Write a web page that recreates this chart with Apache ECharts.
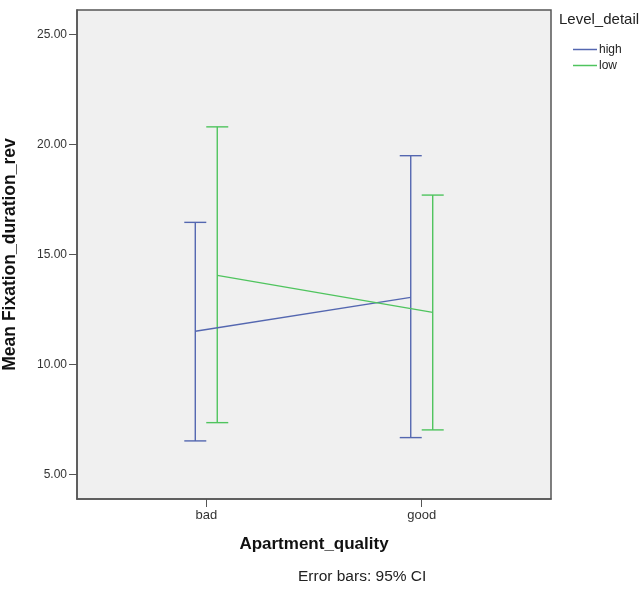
<!DOCTYPE html>
<html>
<head>
<meta charset="utf-8">
<script src="https://cdn.jsdelivr.net/npm/echarts@6/dist/echarts.min.js"></script>
<style>
  html, body { margin: 0; padding: 0; background: #fff; }
  #chart { width: 639px; height: 590px; }
</style>
</head>
<body>
<div id="chart"></div>
<script>
// Apartment quality categories and their positions on the x scale
var categories = ['bad', 'good'];
var categoryPos = [0, 1];
var groupOffset = 0.051;          // horizontal dodge between the two groups

var groups = ['high', 'low'];
var groupColors = ['#5467b0', '#4fc45e'];

// Mean fixation duration per group, one value per category
var highMean = [11.51, 13.05];
var lowMean  = [14.05, 12.37];

// 95% confidence interval bounds
var highLower = [6.53, 6.68];
var highUpper = [16.46, 19.49];
var lowLower  = [7.36, 7.03];
var lowUpper  = [20.80, 17.70];

var yTicks = [5, 10, 15, 20, 25];

var means = [highMean, lowMean];
var lowers = [highLower, lowLower];
var uppers = [highUpper, lowUpper];

var FONT = 'Liberation Sans, Arial, sans-serif';

function xFor(groupIndex, catIndex) {
  return categoryPos[catIndex] + (groupIndex === 0 ? -groupOffset : groupOffset);
}

var series = [];
groups.forEach(function (name, g) {
  var lineData = categories.map(function (c, i) { return [xFor(g, i), means[g][i]]; });
  series.push({
    name: name,
    type: 'line',
    data: lineData,
    symbol: 'none',
    lineStyle: { color: groupColors[g], width: 1.4 },
    itemStyle: { color: groupColors[g] },
    z: 3
  });
  var barData = categories.map(function (c, i) { return [xFor(g, i), lowers[g][i], uppers[g][i]]; });
  series.push({
    name: name,
    type: 'custom',
    data: barData,
    z: 2,
    renderItem: function (params, api) {
      var x = api.value(0);
      var lo = api.coord([x, api.value(1)]);
      var hi = api.coord([x, api.value(2)]);
      var half = 11;
      var style = { stroke: groupColors[g], lineWidth: 1.4 };
      return {
        type: 'group',
        children: [
          { type: 'line', shape: { x1: lo[0], y1: lo[1], x2: hi[0], y2: hi[1] }, style: style },
          { type: 'line', shape: { x1: hi[0] - half, y1: hi[1], x2: hi[0] + half, y2: hi[1] }, style: style },
          { type: 'line', shape: { x1: lo[0] - half, y1: lo[1], x2: lo[0] + half, y2: lo[1] }, style: style }
        ]
      };
    },
    encode: { x: 0, y: [1, 2] }
  });
});

var chart = echarts.init(document.getElementById('chart'), null, { renderer: 'canvas' });
chart.setOption({
  animation: false,
  backgroundColor: '#ffffff',
  textStyle: { fontFamily: FONT },
  grid: {
    left: 77, top: 10, right: 88, bottom: 91,
    containLabel: false,
    outerBoundsMode: 'none',
    show: true, backgroundColor: '#f0f0f0', borderColor: '#555555', borderWidth: 1.5
  },
  legend: {
    orient: 'vertical',
    left: 573, top: 42.5,
    padding: 0,
    icon: 'rect',
    itemWidth: 24, itemHeight: 1.5, itemGap: 2,
    data: groups.map(function (n, g) { return { name: n, itemStyle: { color: groupColors[g] } }; }),
    textStyle: { fontSize: 12, lineHeight: 14, color: '#222', padding: [0, 0, 0, -3] }
  },
  graphic: [
    { type: 'text', left: 559, top: 12,
      style: { text: 'Level_detail', font: '15px ' + FONT, fill: '#222' } },
    { type: 'text', left: 298, top: 569,
      style: { text: 'Error bars: 95% CI', font: '15.5px ' + FONT, fill: '#222' } }
  ],
  xAxis: {
    type: 'value',
    min: -0.6, max: 1.6,
    name: 'Apartment_quality',
    nameLocation: 'middle',
    nameGap: 37,
    nameTextStyle: { fontSize: 17, fontWeight: 'bold', color: '#111' },
    splitLine: { show: false },
    axisLine: { show: true, onZero: false, lineStyle: { color: '#555', width: 1.5 } },
    axisTick: { show: true, customValues: categoryPos, length: 8, lineStyle: { color: '#555' } },
    axisLabel: {
      customValues: categoryPos, fontSize: 13, color: '#333', margin: 10,
      formatter: function (v) { return categories[Math.round(v)]; }
    }
  },
  yAxis: {
    type: 'value',
    min: 3.89, max: 26.11,
    name: 'Mean Fixation_duration_rev',
    nameLocation: 'middle',
    nameGap: 58,
    nameTextStyle: { fontSize: 17.5, fontWeight: 'bold', color: '#111' },
    splitLine: { show: false },
    axisLine: { show: true, onZero: false, lineStyle: { color: '#555', width: 1.5 } },
    axisTick: { show: true, customValues: yTicks, length: 8, lineStyle: { color: '#555' } },
    axisLabel: {
      customValues: yTicks, fontSize: 12, color: '#333', margin: 10,
      formatter: function (v) { return v.toFixed(2); }
    }
  },
  series: series
});
</script>
</body>
</html>
